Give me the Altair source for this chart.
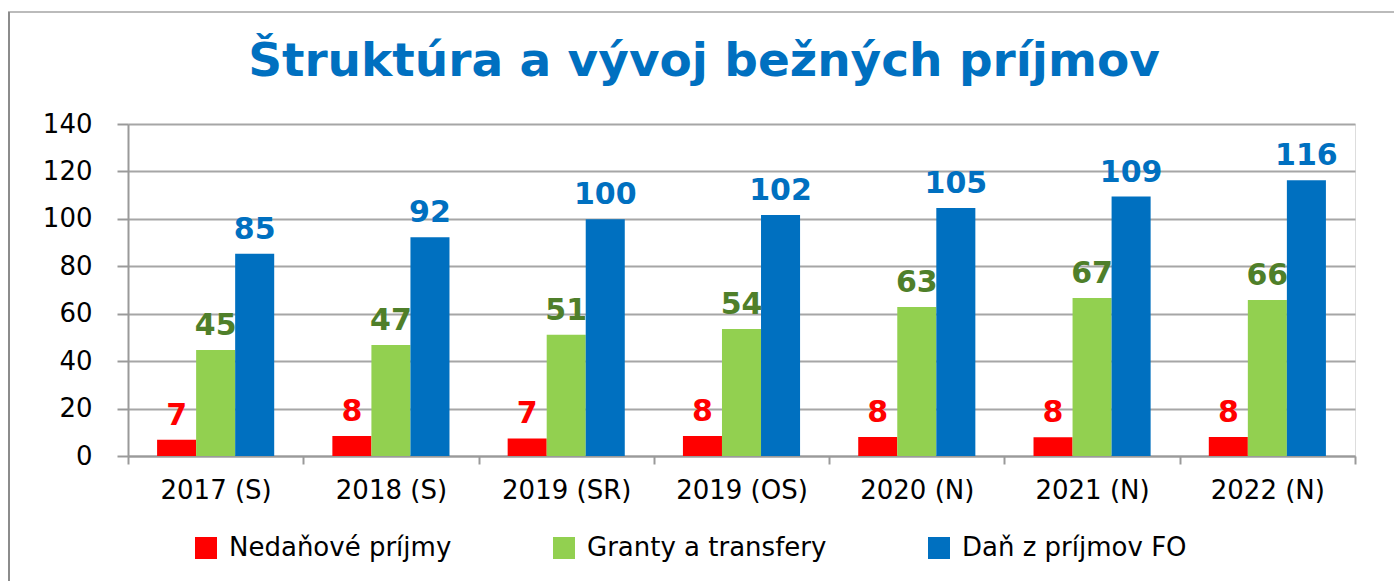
import altair as alt
import pandas as pd

categories = ["2017 (S)", "2018 (S)", "2019 (SR)", "2019 (OS)", "2020 (N)", "2021 (N)", "2022 (N)"]
series_names = ["Nedaňové príjmy", "Granty a transfery", "Daň z príjmov FO"]
nedanove = [6.8, 8.4, 7.4, 8.4, 8.0, 7.9, 8.0]
granty = [44.7, 46.8, 51.1, 53.6, 62.8, 66.6, 65.8]
dan = [85.3, 92.2, 99.8, 101.6, 104.6, 109.4, 116.3]
title_text = "Štruktúra a vývoj bežných príjmov"

bar_colors = ["#FF0000", "#92D050", "#0070C0"]
label_colors = ["#FF0000", "#4F7F2A", "#0070C0"]

rows = []
for s, vals, lc in zip(series_names, [nedanove, granty, dan], label_colors):
    for c, v in zip(categories, vals):
        rows.append({"kategoria": c, "seria": s, "hodnota": v, "lc": lc})
df = pd.DataFrame(rows)

base = alt.Chart(df).encode(
    x=alt.X("kategoria:N", sort=categories,
            scale=alt.Scale(paddingInner=0, paddingOuter=0),
            axis=alt.Axis(title=None, labelAngle=0, labelFont="DejaVu Sans", labelFontSize=26,
                          labelColor="#000000", labelPadding=13, tickBand="extent",
                          tickSize=8, tickColor="#9A9A9A", tickWidth=2,
                          domainColor="#9A9A9A", domainWidth=2, grid=False)),
    xOffset=alt.XOffset("seria:N", sort=series_names,
                        scale=alt.Scale(paddingInner=0, paddingOuter=0.745)),
    y=alt.Y("hodnota:Q", scale=alt.Scale(domain=[0, 140], nice=False),
            axis=alt.Axis(title=None, values=list(range(0, 141, 20)), labelFont="DejaVu Sans",
                          labelFontSize=26, labelColor="#000000", labelPadding=25,
                          tickSize=11, tickColor="#9A9A9A", tickWidth=2,
                          domainColor="#9A9A9A", domainWidth=2,
                          gridColor="#A6A6A6", gridWidth=2)),
)

bars = base.mark_bar().encode(
    color=alt.Color("seria:N", sort=series_names,
                    scale=alt.Scale(domain=series_names, range=bar_colors),
                    legend=alt.Legend(title=None, orient="none", legendX=65, legendY=411,
                                      direction="horizontal", symbolType="square",
                                      symbolSize=484, symbolStrokeWidth=0,
                                      labelFont="DejaVu Sans", labelFontSize=26,
                                      labelColor="#000000", labelOffset=10, labelLimit=0,
                                      columnPadding=99))
)

labels = base.mark_text(font="DejaVu Sans", fontWeight="bold", fontSize=30,
                        baseline="bottom", dy=-9).encode(
    text=alt.Text("hodnota:Q", format=".0f"),
    color=alt.Color("lc:N", scale=None, legend=None),
)

title = alt.Chart(pd.DataFrame({"t": [title_text]})).mark_text(
    font="DejaVu Sans", fontWeight="bold", fontSize=47, color="#0070C0",
    align="center", baseline="alphabetic").encode(
    text="t:N", x=alt.value(576), y=alt.value(-48))

border_top = alt.Chart(df).mark_rule(color="#BBBBBB", strokeWidth=2).encode(
    x=alt.value(-120), x2=alt.value(1266), y=alt.value(-112))
border_left = alt.Chart(df).mark_rule(color="#8C8C8C", strokeWidth=2).encode(
    x=alt.value(-119), y=alt.value(-112), y2=alt.value(460))

chart = alt.layer(border_top, border_left, bars, labels, title).properties(
    width=1227, height=332,
    autosize=alt.AutoSizeParams(type="none"),
    padding={"left": 128, "top": 124, "right": 39, "bottom": 125},
).configure_view(stroke=None).configure(background="#FFFFFF")

chart.save("out.html", embed_options={"renderer": "svg", "actions": False})
